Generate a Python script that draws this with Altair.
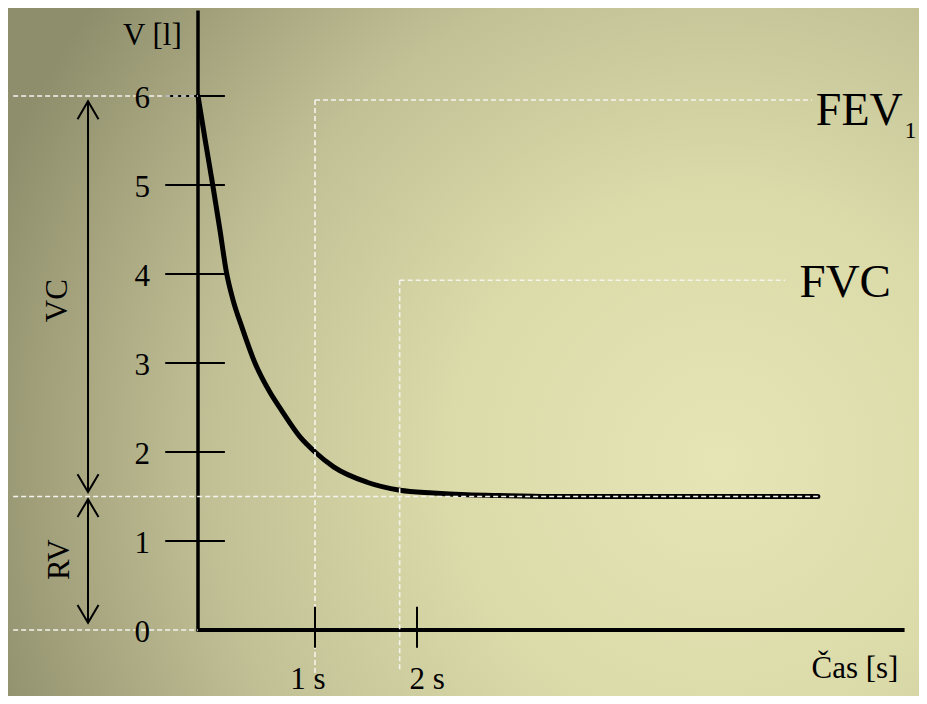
import altair as alt
import pandas as pd

# ---- data ----
# forced expiration curve: time [s] -> volume [l]
time_s = [0.0, 0.062, 0.126, 0.187, 0.243, 0.299, 0.376, 0.487, 0.615, 0.718, 0.872, 1.0,
          1.186, 1.51, 1.833, 2.157, 2.49, 2.81, 3.30, 5.93]
volume_l = [6.0, 5.5, 5.0, 4.5, 4.02, 3.71, 3.40, 3.0, 2.67, 2.46, 2.17, 2.0,
            1.83, 1.66, 1.57, 1.54, 1.52, 1.51, 1.5, 1.5]

y_tick_values = [1, 2, 3, 4, 5, 6]
y_label_values = [0, 1, 2, 3, 4, 5, 6]
y_label_texts = ["0", "1", "2", "3", "4", "5", "6"]
x_tick_values = [1, 2]
x_label_texts = ["1 s", "2 s"]
x_label_centres = [0.94, 2.10]

vc_top = 6.0        # l
rv_level = 1.5      # l
fev1_time = 1.0     # s
fev1_level = 5.955  # l
fvc_time = 1.83     # s
fvc_level = 3.93    # l
t_end = 5.93        # end of plateau
t_axis_end = 6.78
v_axis_top = 6.96
t_left = -1.58      # left end of helper dashes
arrow_t = -0.94

FONT = "Liberation Serif"
W, H = 911, 688

X = alt.Scale(domain=[0, 1, 2], range=[190, 307, 409], nice=False, zero=False)
Y = alt.Scale(domain=[0, 6], range=[622, 88], nice=False, zero=False)


def seg_chart(df, **mark):
    return alt.Chart(df).mark_rule(**mark).encode(
        x=alt.X("t1:Q", scale=X, axis=None),
        x2="t2:Q",
        y=alt.Y("v1:Q", scale=Y, axis=None),
        y2="v2:Q",
    )


def text_chart(df, **mark):
    return alt.Chart(df).mark_text(font=FONT, color="black", **mark).encode(
        x=alt.X("t:Q", scale=X, axis=None),
        y=alt.Y("v:Q", scale=Y, axis=None),
        text="label:N",
    )


bg_grad = alt.RadialGradient(
    gradient="radial",
    x1=0.78, y1=0.62, r1=0.0,
    x2=0.78, y2=0.62, r2=0.85,
    stops=[
        alt.GradientStop(offset=0.0, color="#e6e5b5"),
        alt.GradientStop(offset=0.35, color="#dbdaa9"),
        alt.GradientStop(offset=0.65, color="#c2c196"),
        alt.GradientStop(offset=1.0, color="#8f8e6c"),
    ],
)
background = alt.Chart(pd.DataFrame({"k": [0]})).mark_rect(color=bg_grad).encode(
    x=alt.value(0), x2=alt.value(W), y=alt.value(0), y2=alt.value(H)
)

curve_df = pd.DataFrame({"t": time_s, "v": volume_l})
curve = alt.Chart(curve_df).mark_line(
    color="black", strokeWidth=5, interpolate="monotone", strokeCap="round"
).encode(
    x=alt.X("t:Q", scale=X, axis=None),
    y=alt.Y("v:Q", scale=Y, axis=None),
)

axes_df = pd.DataFrame([
    {"t1": 0, "v1": -0.02, "t2": 0, "v2": v_axis_top, "w": 3.5},
    {"t1": 0, "v1": 0, "t2": t_axis_end, "v2": 0, "w": 4.0},
])
axes = alt.Chart(axes_df).mark_rule(color="black").encode(
    x=alt.X("t1:Q", scale=X, axis=None),
    x2="t2:Q",
    y=alt.Y("v1:Q", scale=Y, axis=None),
    y2="v2:Q",
    strokeWidth=alt.StrokeWidth("w:Q", scale=None),
)

ytick_df = pd.DataFrame({"t1": [-0.28] * len(y_tick_values), "t2": [0.23] * len(y_tick_values),
                         "v1": y_tick_values, "v2": y_tick_values})
yticks = seg_chart(ytick_df, color="black", strokeWidth=2)

xtick_df = pd.DataFrame({"t1": x_tick_values, "t2": x_tick_values,
                         "v1": [0.26] * len(x_tick_values), "v2": [-0.2] * len(x_tick_values)})
xticks = seg_chart(xtick_df, color="black", strokeWidth=2)

dash_df = pd.DataFrame([
    {"t1": t_left, "v1": vc_top, "t2": 0, "v2": vc_top},
    {"t1": t_left, "v1": rv_level, "t2": t_end, "v2": rv_level},
    {"t1": t_left, "v1": 0, "t2": 0, "v2": 0},
    {"t1": fev1_time, "v1": fev1_level, "t2": 5.87, "v2": fev1_level},
    {"t1": fev1_time, "v1": fev1_level, "t2": fev1_time, "v2": -0.48},
    {"t1": fvc_time, "v1": fvc_level, "t2": 5.61, "v2": fvc_level},
    {"t1": fvc_time, "v1": fvc_level, "t2": fvc_time, "v2": -0.47},
])
dashes = seg_chart(dash_df, color="#f4f4ee", strokeWidth=1.6, strokeDash=[5, 3])

shaft_df = pd.DataFrame([
    {"t1": arrow_t, "v1": 5.94, "t2": arrow_t, "v2": 1.55},
    {"t1": arrow_t, "v1": 1.47, "t2": arrow_t, "v2": 0.08},
])
shafts = seg_chart(shaft_df, color="black", strokeWidth=2)

up_df = pd.DataFrame({"t": [arrow_t, arrow_t], "v": [5.94, 1.47]})
down_df = pd.DataFrame({"t": [arrow_t, arrow_t], "v": [1.55, 0.08]})
heads_up = alt.Chart(up_df).mark_point(
    shape="M-1,1.7L0,0L1,1.7", size=441, filled=False, stroke="black", strokeWidth=2, opacity=1
).encode(x=alt.X("t:Q", scale=X, axis=None), y=alt.Y("v:Q", scale=Y, axis=None))
heads_down = alt.Chart(down_df).mark_point(
    shape="M-1,-1.7L0,0L1,-1.7", size=441, filled=False, stroke="black", strokeWidth=2, opacity=1
).encode(x=alt.X("t:Q", scale=X, axis=None), y=alt.Y("v:Q", scale=Y, axis=None))

ylab_df = pd.DataFrame({"t": [-0.41] * len(y_label_values), "v": y_label_values, "label": y_label_texts})
ylabels = text_chart(ylab_df, fontSize=31, align="right", baseline="middle", dy=3)

xlab_df = pd.DataFrame({"t": x_label_centres, "v": [-0.66] * len(x_label_centres), "label": x_label_texts})
xlabels = text_chart(xlab_df, fontSize=31, align="center", baseline="alphabetic")

vlab = text_chart(pd.DataFrame({"t": [-0.39], "v": [6.57], "label": ["V [l]"]}),
                  fontSize=31, align="center", baseline="alphabetic")
tlab = text_chart(pd.DataFrame({"t": [6.72], "v": [-0.54], "label": ["Čas [s]"]}),
                  fontSize=31, align="right", baseline="alphabetic")
fev = text_chart(pd.DataFrame({"t": [5.91], "v": [5.67], "label": ["FEV"]}),
                 fontSize=46, align="left", baseline="alphabetic")
fev_sub = text_chart(pd.DataFrame({"t": [6.78], "v": [5.53], "label": ["1"]}),
                     fontSize=24, align="left", baseline="alphabetic")
fvc = text_chart(pd.DataFrame({"t": [5.75], "v": [3.74], "label": ["FVC"]}),
                 fontSize=47, align="left", baseline="alphabetic")
vc = text_chart(pd.DataFrame({"t": [-1.20], "v": [3.70], "label": ["VC"]}),
                fontSize=31, align="center", baseline="middle", angle=270)
rv = text_chart(pd.DataFrame({"t": [-1.18], "v": [0.79], "label": ["RV"]}),
                fontSize=31, align="center", baseline="middle", angle=270)

chart = alt.layer(
    background, curve, axes, yticks, dashes, xticks, shafts, heads_up, heads_down,
    ylabels, xlabels, vlab, tlab, fev, fev_sub, fvc, vc, rv,
).properties(
    width=W, height=H, padding=0, autosize=alt.AutoSizeParams(type="none")
).configure_view(stroke=None)

chart.save("out.html", embed_options={"renderer": "svg", "actions": False})
